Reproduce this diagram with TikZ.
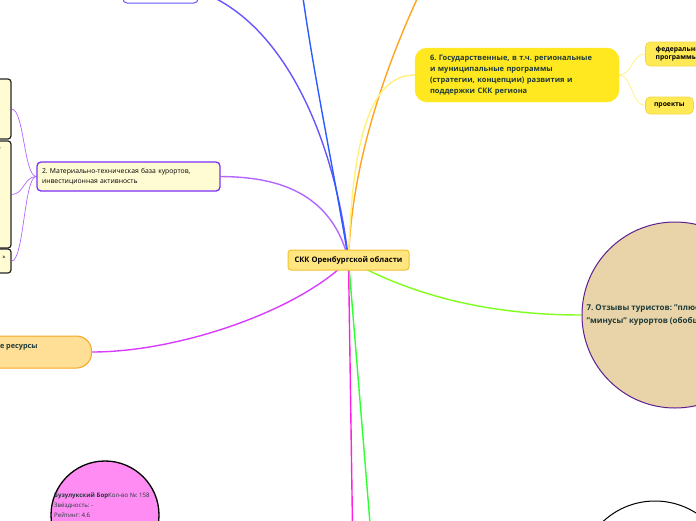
\documentclass[tikz,border=0pt]{standalone}
\usepackage{fontspec}
\setmainfont{Open Sans}
\usepackage{xcolor}
\usetikzlibrary{backgrounds}
\frenchspacing

\definecolor{hubfill}{HTML}{FFE680}
\definecolor{hubline}{HTML}{F2C230}
\definecolor{paleyel}{HTML}{FFFBD2}
\definecolor{violet2}{HTML}{7B2FF7}
\definecolor{lilac}{HTML}{B266FF}
\definecolor{gosyel}{HTML}{FFE81F}
\definecolor{lightyel}{HTML}{FFF27A}
\definecolor{progfill}{HTML}{FFEA55}
\definecolor{progline}{HTML}{F2D64A}
\definecolor{tanfill}{HTML}{E8D4A8}
\definecolor{plum}{HTML}{5C1F8F}
\definecolor{resfill}{HTML}{FFDE95}
\definecolor{resline}{HTML}{F5A623}
\definecolor{pinkfill}{HTML}{FF8CF2}
\definecolor{darkteal}{HTML}{1E3B3B}
\definecolor{linkblue}{HTML}{2A5CFF}
\definecolor{linkviol}{HTML}{6655FF}
\definecolor{linkorange}{HTML}{FFA41F}
\definecolor{linkmag}{HTML}{D83DFF}
\definecolor{linkpink}{HTML}{FF1FE6}
\definecolor{linklime}{HTML}{80FF1A}
\definecolor{linkgreen}{HTML}{2EFF2E}

\begin{document}
\begin{tikzpicture}[x=1pt,y=-1pt,
    link/.style={line width=1.4pt},
    sublink/.style={line width=0.7pt},
    hubbox/.style={draw=hubline, fill=hubfill, line width=1pt, rounded corners=3pt,
        minimum width=121pt, minimum height=20pt, font=\fontsize{7.6}{8}\selectfont\bfseries},
    techbox/.style={draw=violet2, fill=paleyel, line width=1.3pt, rounded corners=4pt,
        minimum width=183pt, minimum height=29pt, text width=173pt, inner xsep=5pt,
        align=left, font=\fontsize{6.8}{10}\selectfont},
    sidebox/.style={draw=black!85, fill=paleyel, line width=1.2pt, rounded corners=3pt,
        minimum width=71pt},
    gosbox/.style={draw=gosyel, fill=gosyel, rounded corners=12pt, minimum width=204pt,
        minimum height=54pt, text width=174pt, inner xsep=15pt, align=left,
        text=darkteal, font=\fontsize{7.5}{11}\selectfont\bfseries},
    progbox/.style={draw=progline, fill=progfill, line width=0.8pt, rounded corners=5pt,
        font=\fontsize{6.8}{8}\selectfont\bfseries},
    resbox/.style={draw=resline, fill=resfill, line width=1pt, rounded corners=15pt,
        minimum width=132pt, minimum height=32pt, text=darkteal,
        font=\fontsize{7.3}{9}\selectfont\bfseries},
    otzcirc/.style={circle, draw=plum, fill=tanfill, line width=1pt, minimum size=186pt},
    otztext/.style={align=left, text=darkteal, font=\fontsize{8}{13}\selectfont\bfseries},
    pinkcirc/.style={circle, draw=black, fill=pinkfill, line width=1.3pt, minimum size=108pt},
    bortext/.style={align=left, text=darkteal, font=\fontsize{6.1}{10}\selectfont},
    fragtext/.style={inner sep=0pt, font=\fontsize{5}{6}\selectfont}
]
\useasboundingbox (0,0) rectangle (696,520);

% central node
\node[hubbox] (skk) at (348.5,260) {СКК Оренбургской области};

% branches
\node[draw=linkviol, fill=white, line width=1pt, rounded corners=4pt,
    minimum width=75pt, minimum height=24pt] (topleft) at (160.5,-9) {};
\coordinate (upblue) at (298,-40);
\coordinate (uporange) at (436,-40);
\coordinate (downpink) at (353,560);
\coordinate (downgreen) at (373,560);

\node[techbox] (tech) at (128.5,176.5) {2. Материально-техническая база курортов,\\инвестиционная активность};
\node[sidebox, minimum height=60pt] (side1) at (-24.5,109) {};
\node[sidebox, minimum height=107pt] (side2) at (-24.5,194.5) {};
\node[sidebox, minimum height=24pt] (side3) at (-24.5,261) {};
\node[fragtext] (frag2) at (-0.5,150) {у};
\node[fragtext] (frag3) at (4,257) {ь};

\node[gosbox] (gos) at (517,75) {6. Государственные, в т.ч. региональные\\и муниципальные программы\\(стратегии, концепции) развития и\\поддержки СКК региона};
\node[progbox, anchor=west, minimum width=70pt, minimum height=24pt, align=left] (fedprog) at (645,54) {федеральные\\программы};
\node[progbox, anchor=west, minimum width=48pt, minimum height=17pt] (proj) at (645,105.5) {проекты};

\node[otzcirc] (otz) at (675,315) {};
\node[otztext, anchor=west] (otzlbl) at (583,315.5) {7. Отзывы туристов: "плюсы" и\\"минусы" курортов (обобщение)};

\node[resbox, anchor=east] (res) at (92,352) {};
\node[resbox, draw=none, fill=none, anchor=west, minimum width=0pt, minimum height=0pt, inner sep=0pt] (reslbl) at (-0.5,347) {е ресурсы};

\node[pinkcirc] (bor) at (105,515) {};
\node[bortext, anchor=north west, inner sep=0pt] (borlbl) at (54,493) {\textbf{Бузулукский Бор}Кол-во №: 158\\Звёздность: -\\Рейтинг: 4.6};

\node[circle, draw=black, fill=white, line width=1pt, minimum size=152pt] (bigc) at (655,577) {};

% connectors
\begin{scope}[on background layer]
\draw[link, linkviol] (skk.center) .. controls (335,140) and (285,22) .. (topleft.east);
\draw[link, linkblue] (skk.center) .. controls (334,170) and (310,60) .. (upblue);
\draw[link, linkorange] (skk.center) .. controls (352,150) and (395,40) .. (uporange);
\draw[link, lightyel] (skk.center) .. controls (352,140) and (370,75) .. (gos.west);
\draw[link, lilac] (skk.center) .. controls (330,185) and (265,177) .. (tech.east);
\draw[link, linkmag] (skk.center) .. controls (300,310) and (180,352) .. (res.east);
\draw[link, linklime] (skk.center) .. controls (420,300) and (500,315) .. (otz.west);
\draw[link, linkpink] (skk.center) -- (downpink);
\draw[link, linkgreen] (skk.center) -- (downgreen);
\draw[sublink, lilac] (tech.west) .. controls (24,176.5) and (24,109) .. (side1.east);
\draw[sublink, lilac] (tech.west) .. controls (24,176.5) and (24,194.5) .. (side2.east);
\draw[sublink, lilac] (tech.west) .. controls (24,176.5) and (24,261) .. (side3.east);
\draw[sublink, lightyel] (gos.east) .. controls (632,75) and (632,54) .. (fedprog.west);
\draw[sublink, lightyel] (gos.east) .. controls (632,75) and (632,105.5) .. (proj.west);
\end{scope}
\end{tikzpicture}
\end{document}
